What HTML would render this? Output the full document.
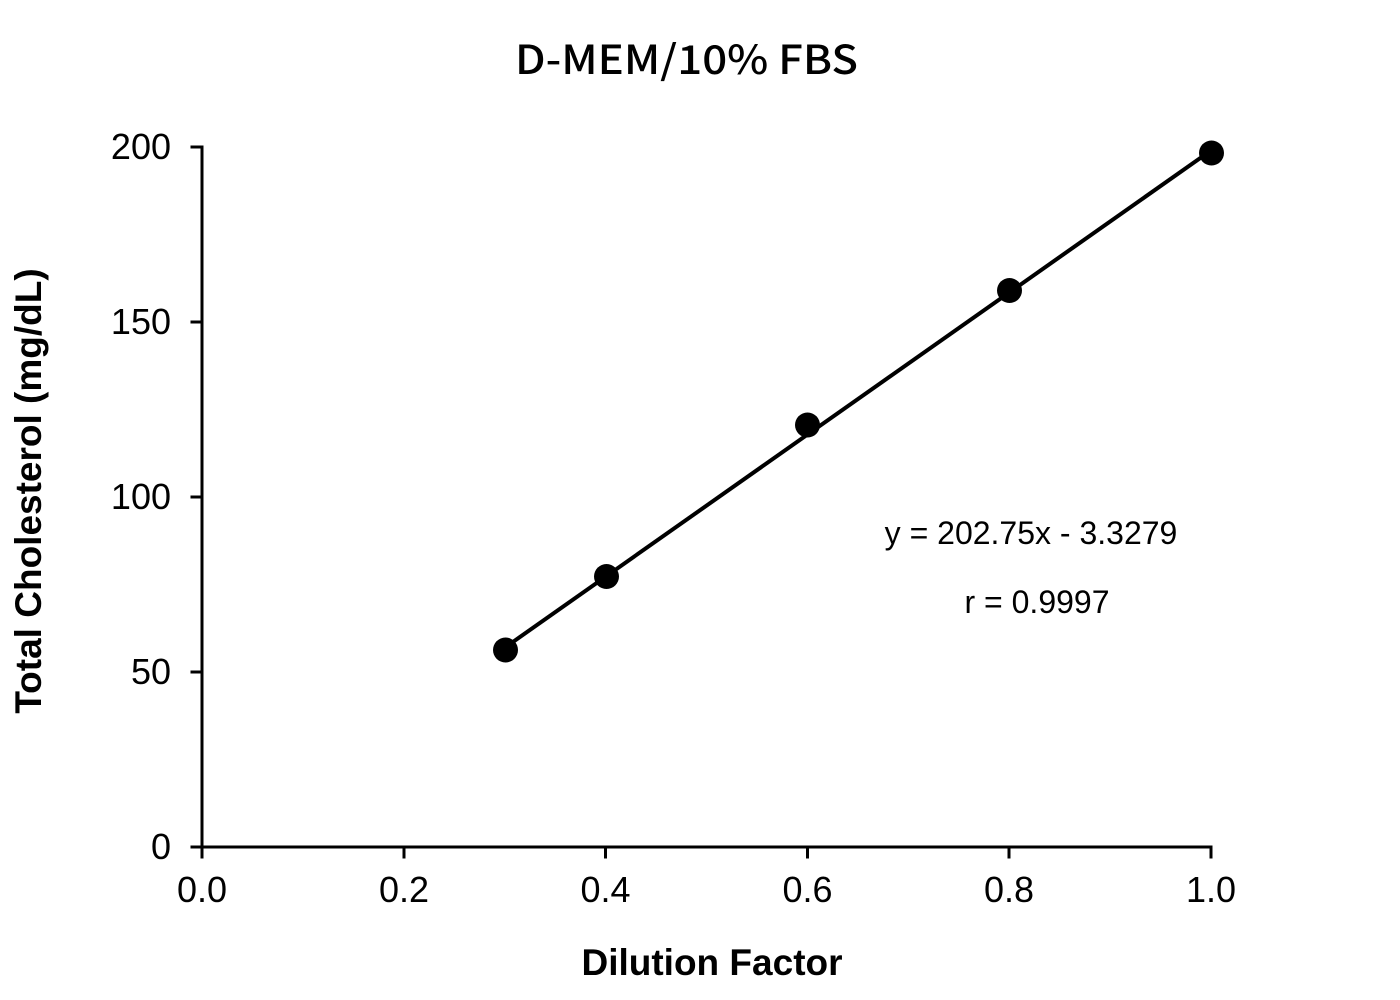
<!DOCTYPE html>
<html>
<head>
<meta charset="utf-8">
<style>
  html, body { margin: 0; padding: 0; background: #ffffff; }
  body { width: 1400px; height: 1000px; overflow: hidden; }
  svg { display: block; }
  .tick { font-family: "Liberation Sans", Arial, sans-serif; font-size: 36px; fill: #000; }
  .ann { font-family: "Liberation Sans", Arial, sans-serif; font-size: 32px; fill: #000; }
  .axt { font-family: "Liberation Sans", Arial, sans-serif; font-size: 37px; font-weight: bold; fill: #000; }
  .title { font-family: "Noto Sans CJK JP", "Liberation Sans", sans-serif; font-size: 40px; font-weight: 500; fill: #000; }
</style>
</head>
<body>
<svg width="1400" height="1000" viewBox="0 0 1400 1000" xmlns="http://www.w3.org/2000/svg">
  <rect x="0" y="0" width="1400" height="1000" fill="#fff"/>

  <!-- Title -->
  <text class="title" x="515" y="74" textLength="343" lengthAdjust="spacingAndGlyphs">D-MEM/10% FBS</text>

  <!-- Axes -->
  <g stroke="#000" stroke-width="3" fill="none" stroke-linecap="square">
    <line x1="202" y1="147" x2="202" y2="847"/>
    <line x1="202" y1="847" x2="1211" y2="847"/>
    <!-- y ticks -->
    <line x1="192" y1="147" x2="202" y2="147"/>
    <line x1="192" y1="322" x2="202" y2="322"/>
    <line x1="192" y1="497" x2="202" y2="497"/>
    <line x1="192" y1="672" x2="202" y2="672"/>
    <line x1="192" y1="847" x2="202" y2="847"/>
    <!-- x ticks -->
    <line x1="202" y1="847" x2="202" y2="857"/>
    <line x1="404" y1="847" x2="404" y2="857"/>
    <line x1="605.5" y1="847" x2="605.5" y2="857"/>
    <line x1="807.5" y1="847" x2="807.5" y2="857"/>
    <line x1="1009" y1="847" x2="1009" y2="857"/>
    <line x1="1211" y1="847" x2="1211" y2="857"/>
  </g>

  <!-- y tick labels -->
  <text class="tick" x="171" y="159" text-anchor="end">200</text>
  <text class="tick" x="171" y="334" text-anchor="end">150</text>
  <text class="tick" x="171" y="509" text-anchor="end">100</text>
  <text class="tick" x="171" y="684" text-anchor="end">50</text>
  <text class="tick" x="171" y="859" text-anchor="end">0</text>

  <!-- x tick labels -->
  <text class="tick" x="202" y="902" text-anchor="middle">0.0</text>
  <text class="tick" x="404" y="902" text-anchor="middle">0.2</text>
  <text class="tick" x="605.5" y="902" text-anchor="middle">0.4</text>
  <text class="tick" x="807.5" y="902" text-anchor="middle">0.6</text>
  <text class="tick" x="1009" y="902" text-anchor="middle">0.8</text>
  <text class="tick" x="1211" y="902" text-anchor="middle">1.0</text>

  <!-- Axis titles -->
  <text class="axt" x="712" y="975" text-anchor="middle">Dilution Factor</text>
  <text class="axt" transform="translate(41,491) rotate(-90)" x="0" y="0" text-anchor="middle">Total Cholesterol (mg/dL)</text>

  <!-- Regression line -->
  <line x1="505" y1="647.5" x2="1211" y2="150.5" stroke="#000" stroke-width="4"/>

  <!-- Data points -->
  <g fill="#000">
    <circle cx="505.5" cy="650" r="12.5"/>
    <circle cx="606.5" cy="576.5" r="12.5"/>
    <circle cx="807.5" cy="425" r="12.5"/>
    <circle cx="1009.5" cy="290.5" r="12.5"/>
    <circle cx="1211.5" cy="153" r="12.5"/>
  </g>

  <!-- Annotation -->
  <text class="ann" x="1031" y="544" text-anchor="middle">y = 202.75x - 3.3279</text>
  <text class="ann" x="1037" y="613" text-anchor="middle">r = 0.9997</text>
</svg>
</body>
</html>
